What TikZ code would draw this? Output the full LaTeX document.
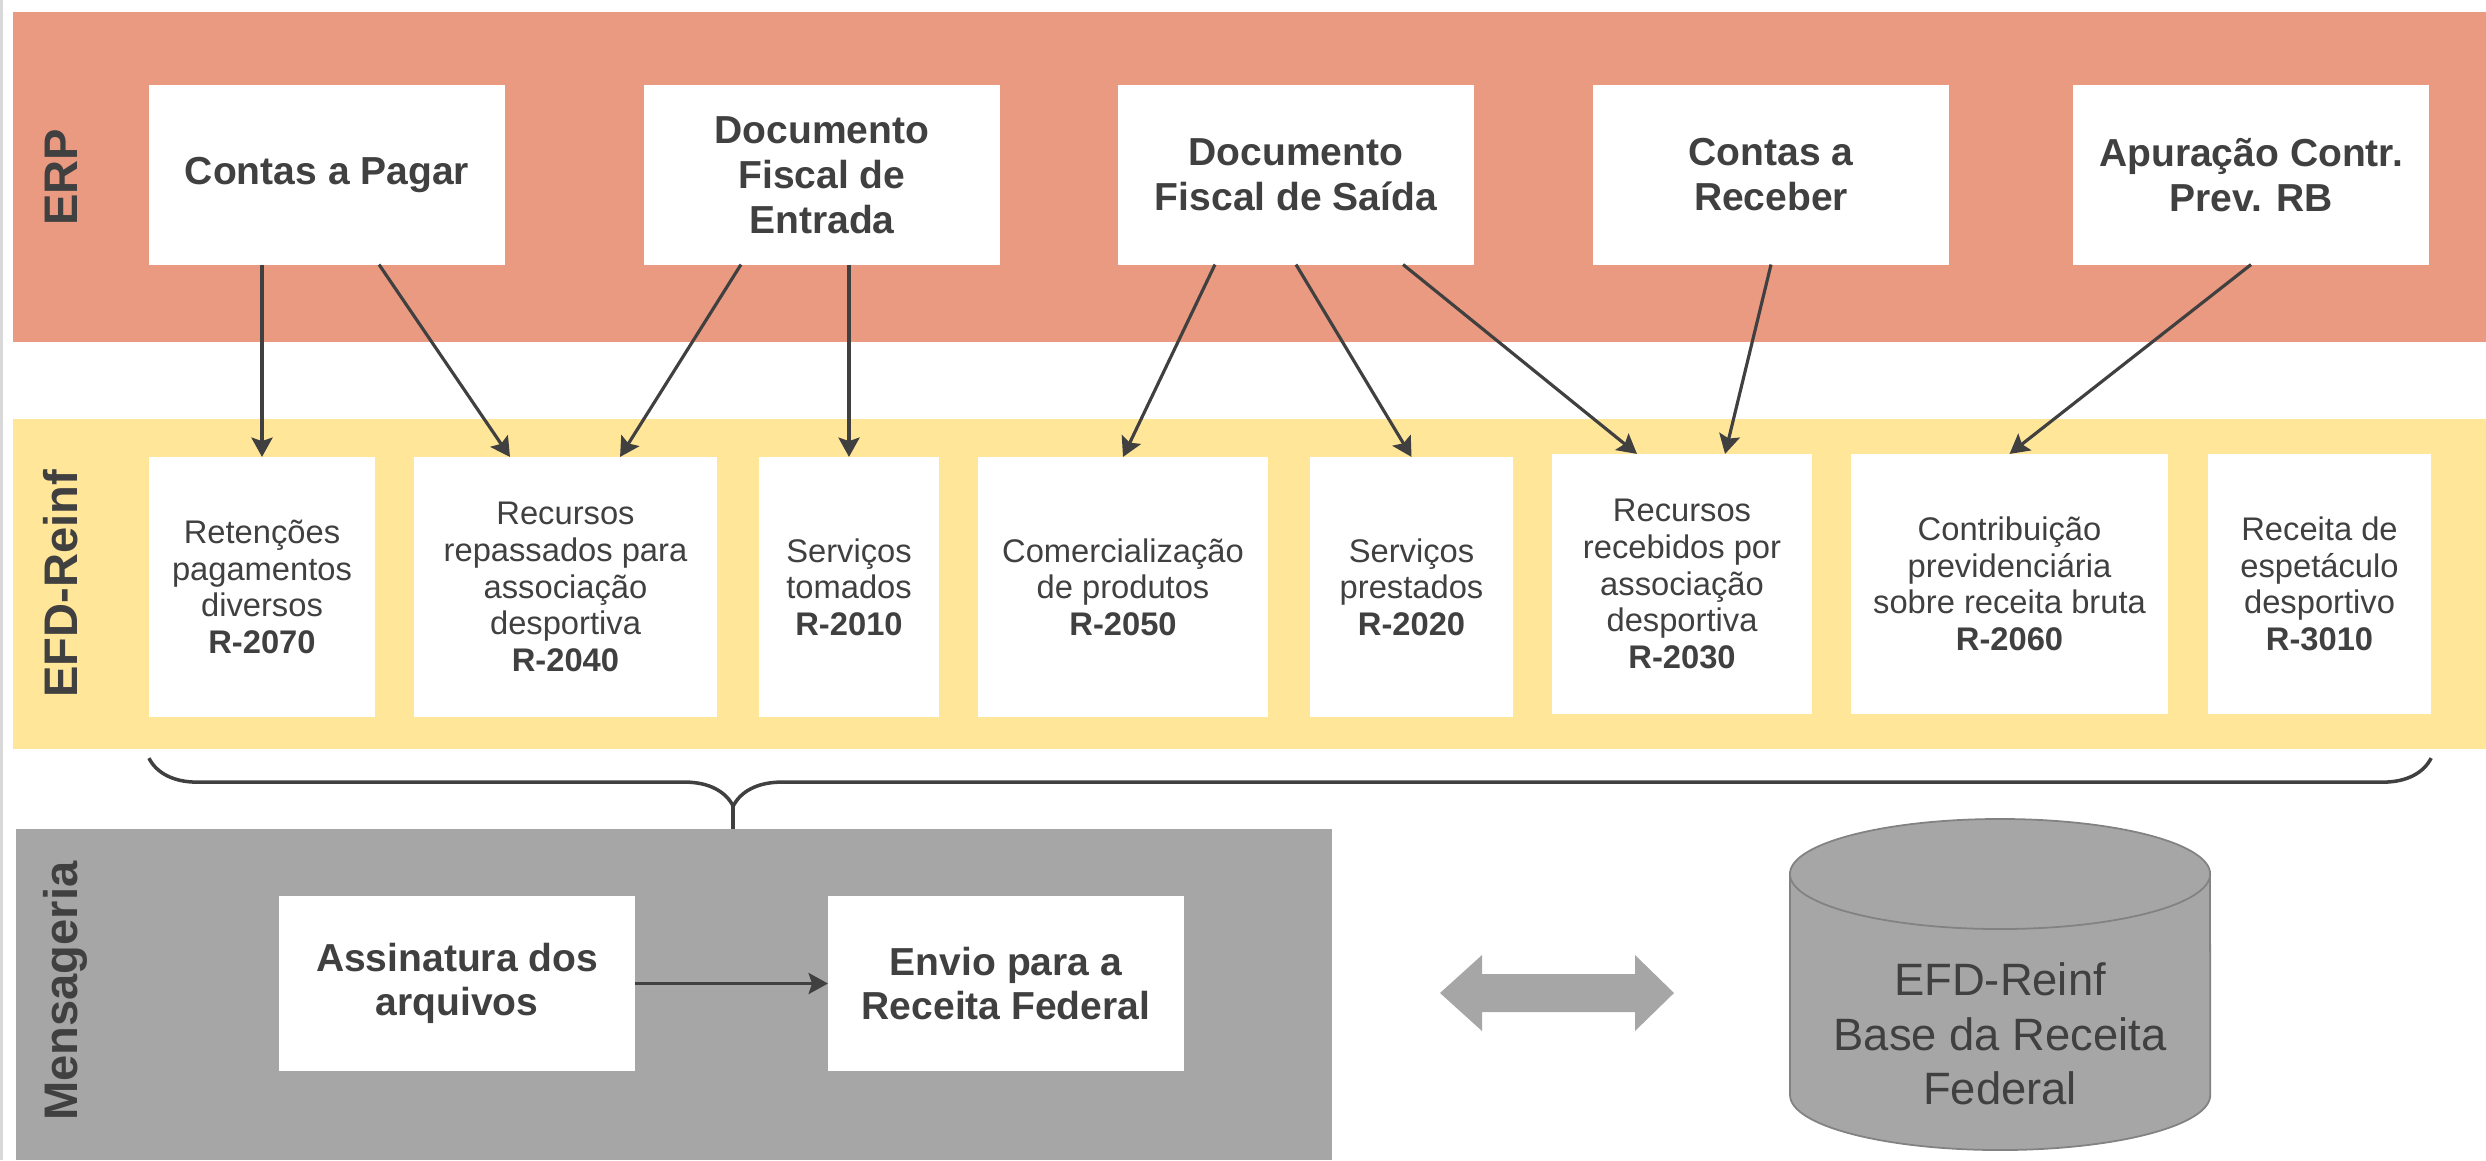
\documentclass[tikz,border=0pt]{standalone}
\usepackage{fontspec}
\setmainfont{Liberation Sans}
\usetikzlibrary{arrows.meta,decorations.pathreplacing}
\definecolor{erpcol}{RGB}{234,154,128}
\definecolor{efdcol}{RGB}{255,230,153}
\definecolor{msgcol}{RGB}{166,166,166}
\definecolor{txtcol}{RGB}{64,64,64}
\definecolor{edgecol}{RGB}{217,217,217}
\definecolor{dbline}{RGB}{130,130,130}

\begin{document}
\begin{tikzpicture}[x=0.01cm, y=-0.01cm]
  \tikzstyle{band}=[inner sep=0, outer sep=0, minimum height=3.3cm]
  \tikzstyle{lbl}=[rotate=90, anchor=mid, text=txtcol, font=\fontsize{13.4}{16}\selectfont\bfseries]
  \tikzstyle{erpbox}=[fill=white, inner sep=0, outer sep=0, minimum width=3.56cm, minimum height=1.79cm,
    align=center, text=txtcol, font=\fontsize{11.1}{12.8}\selectfont\bfseries]
  \tikzstyle{efdbox}=[fill=white, inner sep=0, outer sep=0, minimum height=2.6cm,
    align=center, text=txtcol, font=\fontsize{9.3}{10.4}\selectfont]
  \tikzstyle{arr}=[draw=txtcol, line width=0.9pt, -{Stealth[length=5.5pt,width=6pt,inset=1pt]}]
  \tikzstyle{brc}=[draw=txtcol, line width=1pt, decorate,
    decoration={brace, mirror, amplitude=0.48cm, aspect=0.256}]

  \useasboundingbox (0,0) rectangle (2486,1160);
  \fill[edgecol] (0,0) rectangle (3,1160);

  % faixas
  \node[band, fill=erpcol, minimum width=24.72cm] (erp) at (1250,177) {};
  \node[band, fill=efdcol, minimum width=24.72cm] (efd) at (1250,584) {};
  \node[band, fill=msgcol, minimum width=13.16cm, minimum height=3.31cm] (msg) at (674,994.5) {};

  \node[lbl] (lerp) at (68,177) {ERP};
  \node[lbl] (lefd) at (68,584) {EFD-Reinf};
  \node[lbl] (lmsg) at (68,991) {Mensageria};

  % ERP
  \foreach \n/\x/\t in {cpagar/327/{Contas a Pagar},
                        dfe/822/{Documento\\Fiscal de\\Entrada},
                        dfs/1296/{Documento\\Fiscal de Saída},
                        creceber/1771/{Contas a\\Receber},
                        apur/2251/{Apuração Contr.\\Prev. RB}}
  {
    \node[erpbox] (\n) at (\x,175) {\t};
  }

  % EFD-Reinf
  \foreach \n/\x/\y/\w/\t in {r2070/262/587/2.26/{Retenções\\pagamentos\\diversos\\\textbf{R-2070}},
                              r2040/565.5/587/3.03/{Recursos\\repassados para\\associação\\desportiva\\\textbf{R-2040}},
                              r2010/849/587/1.80/{Serviços\\tomados\\\textbf{R-2010}},
                              r2050/1123/587/2.90/{Comercialização\\de produtos\\\textbf{R-2050}},
                              r2020/1411.5/587/2.03/{Serviços\\prestados\\\textbf{R-2020}},
                              r2030/1682/584/2.60/{Recursos\\recebidos por\\associação\\desportiva\\\textbf{R-2030}},
                              r2060/2009.5/584/3.17/{Contribuição\\previdenciária\\sobre receita bruta\\\textbf{R-2060}},
                              r3010/2319.5/584/2.23/{Receita de\\espetáculo\\desportivo\\\textbf{R-3010}}}
  {
    \node[efdbox, minimum width=\w cm] (\n) at (\x,\y) {\t};
  }

  \draw[arr] (cpagar.south -| r2070.north) -- (r2070.north);
  \draw[arr] ([xshift=0.52cm]cpagar.south) -- ([xshift=-0.555cm]r2040.north);
  \draw[arr] ([xshift=-0.81cm]dfe.south) -- ([xshift=0.545cm]r2040.north);
  \draw[arr] (dfe.south -| r2010.north) -- (r2010.north);
  \draw[arr] ([xshift=-0.81cm]dfs.south) -- (r2050.north);
  \draw[arr] (dfs.south) -- (r2020.north);
  \draw[arr] ([xshift=1.07cm]dfs.south) -- ([xshift=-0.45cm]r2030.north);
  \draw[arr] (creceber.south) -- ([xshift=0.43cm]r2030.north);
  \draw[arr] (apur.south) -- (r2060.north);

  % chave
  \draw[brc] ([yshift=-0.41cm]r2070.south west) -- ([yshift=-0.44cm]r3010.south east);
  \coordinate (btip) at (733,806);
  \draw[draw=txtcol, line width=1pt] (btip) -- (btip |- msg.north);

  % Mensageria
  \node[erpbox, minimum height=1.75cm, font=\fontsize{11.1}{12.3}\selectfont\bfseries] (assin) at (457,983.5) {Assinatura dos\\arquivos};
  \node[erpbox, minimum height=1.75cm, font=\fontsize{11.1}{12.3}\selectfont\bfseries] (envio) at (1006,983.5) {Envio para a\\Receita Federal};
  \draw[arr] (assin) -- (envio);

  % seta dupla
  \fill[msgcol] (1440,993) -- (1482,955) -- (1482,974) -- (1635,974) -- (1635,955) -- (1674,993)
    -- (1635,1031) -- (1635,1012) -- (1482,1012) -- (1482,1031) -- cycle;

  % base
  \coordinate (db) at (2000,874);
  \fill[msgcol] (1790,874) rectangle (2210,1095);
  \fill[msgcol] (2000,1095) ellipse [x radius=2.1cm, y radius=0.55cm];
  \draw[dbline, line width=0.5pt] (1790,874) -- (1790,1095)
    arc[start angle=180, end angle=360, x radius=2.1cm, y radius=0.55cm] -- (2210,874);
  \draw[dbline, line width=0.5pt, fill=msgcol] (db) ellipse [x radius=2.1cm, y radius=0.55cm];
  \node[align=center, text=txtcol, font=\fontsize{12.9}{15.5}\selectfont] (dbtxt) at (2000,1034)
    {EFD-Reinf\\Base da Receita\\Federal};
\end{tikzpicture}
\end{document}
